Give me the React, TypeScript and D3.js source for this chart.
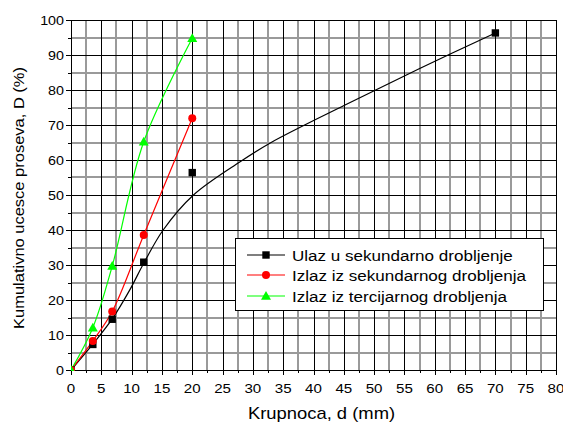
import React from "react";
import * as d3 from "d3";

const xTicks = [0, 5, 10, 15, 20, 25, 30, 35, 40, 45, 50, 55, 60, 65, 70, 75, 80];
const yTicks = [0, 10, 20, 30, 40, 50, 60, 70, 80, 90, 100];

const ulazX = [0, 3.6, 6.8, 12, 20, 70];
const ulazY = [0, 7.3, 14.5, 30.8, 56.4, 96.3];

const fitX = [0, 3.6, 6.8, 9.7, 12, 15.2, 20.2, 27.9, 32.8, 45.2, 57.6, 70];
const fitY = [0, 7.4, 14.6, 22.9, 30.5, 40, 50, 59.5, 64.8, 75.7, 86.2, 96.3];

const sekX = [0, 3.6, 6.8, 12, 20];
const sekY = [0, 8.3, 16.7, 38.6, 71.9];

const terX = [0, 3.6, 6.8, 12, 20];
const terY = [0, 12.1, 29.7, 65.2, 94.8];

const legendLabels = [
  "Ulaz u sekundarno drobljenje",
  "Izlaz iz sekundarnog drobljenja",
  "Izlaz iz tercijarnog drobljenja",
];

const W = 563, H = 423;
const L = 71, R = 556, T = 20, B = 370;
const font = "Liberation Sans, Arial, sans-serif";

function T2(props: { x: number; y: number; sx: number; size: number; anchor?: string; rot?: number; children: any }) {
  const { x, y, sx, size, anchor, rot, children } = props;
  const tr = rot ? `translate(${x},${y}) rotate(${rot}) scale(${sx},1)` : `translate(${x},${y}) scale(${sx},1)`;
  return (
    <text transform={tr} textAnchor={anchor || "start"} fontFamily={font} fontSize={size} fill="#000">{children}</text>
  );
}

export default function App() {
  const x = d3.scaleLinear().domain([0, 80]).range([L, R]);
  const y = d3.scaleLinear().domain([0, 100]).range([B, T]);
  const line = d3.line<[number, number]>().x(d => x(d[0])).y(d => y(d[1])).curve(d3.curveCatmullRom.alpha(0.5));
  const zip = (a: number[], b: number[]) => a.map((v, i) => [v, b[i]] as [number, number]);

  const minorX = d3.range(2.5, 80, 5);
  const minorY = d3.range(5, 100, 10);
  const px = (v: number) => Math.round(v) + 0.5;

  const square = (cx: number, cy: number, k: string) => <rect key={k} x={cx - 3.7} y={cy - 3.7} width={7.4} height={7.4} fill="#000" />;
  const circle = (cx: number, cy: number, k: string) => <circle key={k} cx={cx} cy={cy} r={4} fill="#ff0000" />;
  const tri = (cx: number, cy: number, k: string) => <path key={k} d={`M${cx},${cy - 5} L${cx + 5},${cy + 3.8} L${cx - 5},${cy + 3.8} Z`} fill="#00ff00" />;

  const legY = [255, 275, 296];

  return (
    <svg width={W} height={H} style={{ position: "absolute", left: 0, top: 0, background: "#fff" }}>
      <defs>
        <clipPath id="plot"><rect x={L} y={T} width={R - L + 1} height={B - T + 1} /></clipPath>
      </defs>
      <rect width={W} height={H} fill="#fff" />
      {/* minor grid */}
      {minorX.map(v => <line key={"mx" + v} x1={Math.round(x(v))} x2={Math.round(x(v))} y1={T} y2={B} stroke="#9a9a9a" strokeWidth={2} />)}
      {minorY.map(v => <line key={"my" + v} x1={L} x2={R} y1={Math.round(y(v))} y2={Math.round(y(v))} stroke="#9a9a9a" strokeWidth={2} />)}
      {/* major grid */}
      {xTicks.map(v => <line key={"gx" + v} x1={px(x(v))} x2={px(x(v))} y1={T} y2={B} stroke="#000" strokeWidth={1} />)}
      {yTicks.map(v => <line key={"gy" + v} x1={L} x2={R} y1={px(y(v))} y2={px(y(v))} stroke="#000" strokeWidth={1} />)}
      {/* frame */}
      <rect x={L + 0.5} y={T + 0.5} width={R - L} height={B - T} fill="none" stroke="#000" strokeWidth={1} />
      {/* ticks */}
      {xTicks.map(v => <line key={"tx" + v} x1={px(x(v))} x2={px(x(v))} y1={B} y2={B + 5} stroke="#000" />)}
      {minorX.map(v => <line key={"tmx" + v} x1={px(x(v))} x2={px(x(v))} y1={B} y2={B + 3} stroke="#000" />)}
      {yTicks.map(v => <line key={"ty" + v} x1={L - 5} x2={L} y1={px(y(v))} y2={px(y(v))} stroke="#000" />)}
      {minorY.map(v => <line key={"tmy" + v} x1={L - 3} x2={L} y1={px(y(v))} y2={px(y(v))} stroke="#000" />)}
      {/* tick labels */}
      {xTicks.map(v => <T2 key={"lx" + v} x={x(v)} y={393} sx={1.12} size={13.5} anchor="middle">{v}</T2>)}
      {yTicks.map(v => <T2 key={"ly" + v} x={L - 7} y={y(v) + 4.7} sx={1.1} size={13} anchor="end">{v}</T2>)}
      {/* axis titles */}
      <T2 x={(L + R) / 2 + 8} y={419} sx={1.15} size={16} anchor="middle">Krupnoca, d (mm)</T2>
      <T2 x={24} y={(T + B) / 2 + 3} sx={1.1} size={15} anchor="middle" rot={-90}>Kumulativno ucesce proseva, D (%)</T2>
      {/* series */}
      <g clipPath="url(#plot)">
        <path d={line(zip(fitX, fitY)) || ""} fill="none" stroke="#000" strokeWidth={1.2} />
        <path d={line(zip(sekX, sekY)) || ""} fill="none" stroke="#ff0000" strokeWidth={1.2} />
        <path d={line(zip(terX, terY)) || ""} fill="none" stroke="#00ff00" strokeWidth={1.2} />
        {ulazX.map((v, i) => square(x(v), y(ulazY[i]), "s" + i))}
        {sekX.map((v, i) => circle(x(v), y(sekY[i]), "c" + i))}
        {terX.map((v, i) => tri(x(v), y(terY[i]), "t" + i))}
      </g>
      {/* legend */}
      <rect x={235.5} y={238.5} width={308} height={72} fill="#fff" stroke="#000" strokeWidth={1} />
      {legendLabels.map((lab, i) => (
        <g key={"leg" + i}>
          <line x1={247} x2={285} y1={legY[i]} y2={legY[i]} stroke={["#000", "#ff0000", "#00ff00"][i]} strokeWidth={1.2} />
          {i === 0 && square(266, legY[i], "ls")}
          {i === 1 && circle(266, legY[i], "lc")}
          {i === 2 && tri(266, legY[i], "lt")}
          <T2 x={292} y={legY[i] + 5.5} sx={1.1} size={15.5}>{lab}</T2>
        </g>
      ))}
    </svg>
  );
}
